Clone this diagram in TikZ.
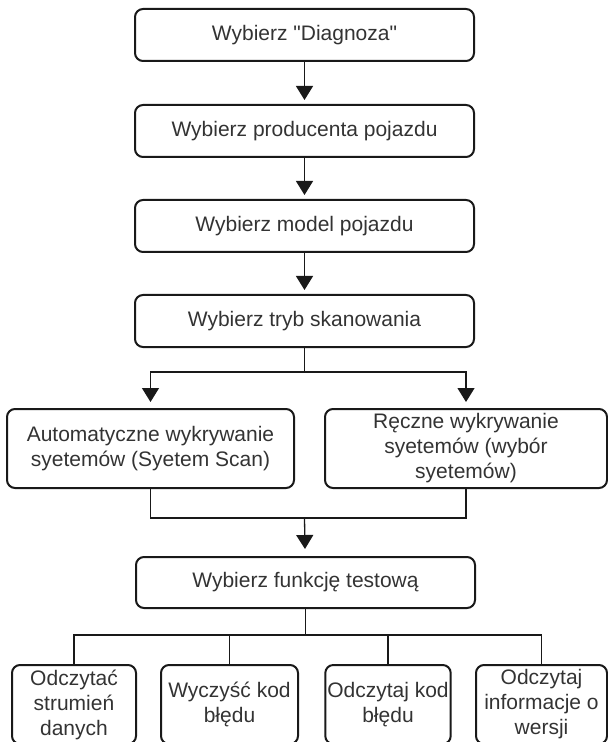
\documentclass[tikz,border=0pt]{standalone}
\usepackage{fontspec}
\setmainfont{Liberation Sans}
\usetikzlibrary{arrows.meta}
\definecolor{boxtext}{HTML}{333333}

\begin{document}
\begin{tikzpicture}[x=0.5pt, y=-0.5pt,
    stepbox/.style={draw=black!90, line width=1pt, rounded corners=4pt, align=center,
        text=boxtext, inner sep=1pt, font=\fontsize{10.5}{12.5}\selectfont},
    widebox/.style={stepbox, minimum width=169.5pt, minimum height=26pt},
    splitbox/.style={stepbox, minimum height=39.5pt},
    link/.style={line width=0.65pt, black!90},
    arr/.style={link, -{Triangle[length=7pt, width=8.5pt]}}]
    \useasboundingbox (0,0) rectangle (608,742);
    \node[widebox] (diag) at (304.5,35) {Wybierz \textquotedbl Diagnoza\textquotedbl};
    \node[widebox] (prod) at (304.5,131) {Wybierz producenta pojazdu};
    \node[widebox] (model) at (304.5,226) {Wybierz model pojazdu};
    \node[widebox] (tryb) at (304.5,321) {Wybierz tryb skanowania};
    \node[splitbox, minimum width=143.5pt] (auto) at (150.5,448.5)
        {Automatyczne wykrywanie\\syetemów (Syetem Scan)};
    \node[splitbox, minimum width=141pt] (reczne) at (466,448.5)
        {Ręczne wykrywanie\\syetemów (wybór\\syetemów)};
    \node[widebox, minimum height=25.5pt] (funk) at (305.5,582.5) {Wybierz funkcję testową};
    \node[splitbox, minimum width=62pt] (odczyt) at (74,704.5) {Odczytać\\strumień\\danych};
    \node[splitbox, minimum width=68.5pt] (wyczysc) at (229.5,704.5) {Wyczyść kod\\błędu};
    \node[splitbox, minimum width=62pt] (kod) at (388,704.5) {Odczytaj kod\\błędu};
    \node[splitbox, minimum width=65.5pt] (wersja) at (541.5,704.5) {Odczytaj\\informacje o\\wersji};

    \coordinate (split) at (304.5,372);
    \coordinate (merge) at (304.5,518);
    \coordinate (branch) at (305.5,635);

    \draw[arr, shorten >=2pt] (diag) -- (prod);
    \draw[arr, shorten >=2pt] (prod) -- (model);
    \draw[arr, shorten >=2pt] (model) -- (tryb);
    \draw[link] (tryb) -- (split);
    \draw[arr, shorten >=3pt] (split) -| (auto);
    \draw[arr, shorten >=3pt] (split) -| (reczne);
    \draw[link] (auto) |- (merge) -| (reczne);
    \draw[arr, shorten >=3.5pt] (merge) -- (funk);
    \draw[link] (funk) -- (branch);
    \foreach \n in {odczyt, wyczysc, kod, wersja}
        \draw[link] (branch) -| (\n);
\end{tikzpicture}
\end{document}
